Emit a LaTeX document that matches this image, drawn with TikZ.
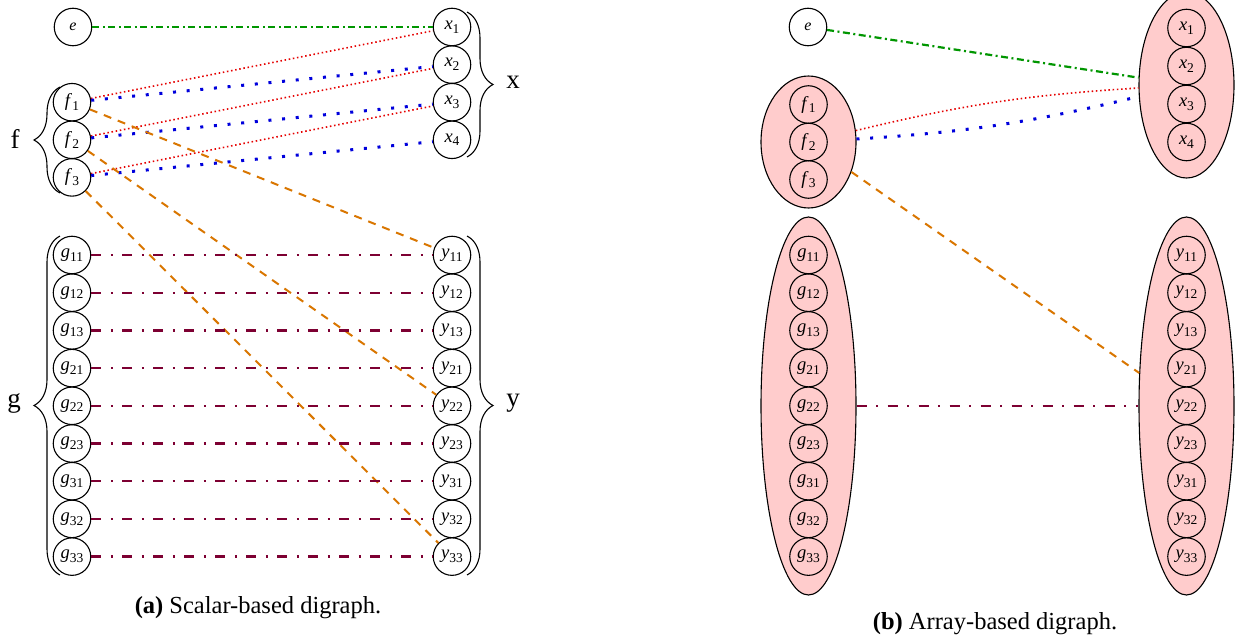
\documentclass[tikz,border=0pt]{standalone}
\usepackage{fontspec}
\setmainfont{Liberation Serif}
\usetikzlibrary{shapes.geometric,decorations.pathreplacing}
\definecolor{cgreen}{RGB}{0,150,0}
\definecolor{cred}{RGB}{230,0,0}
\definecolor{cblue}{RGB}{0,0,220}
\definecolor{corange}{RGB}{217,118,0}
\definecolor{cmaroon}{RGB}{125,0,50}
\definecolor{cpink}{RGB}{255,204,204}
\newcommand{\nl}[2]{\textit{#1}\raisebox{-3.8pt}{\fontsize{13.5}{13.5}\selectfont #2}}
\tikzset{
  vtx/.style={circle, draw, line width=1.1pt, minimum size=37.5pt, inner sep=0pt, font=\fontsize{18.5}{18.5}\selectfont},
  evtx/.style={vtx, font=\fontsize{16}{16}\selectfont},
  grp/.style={ellipse, draw, fill=cpink, line width=1.1pt, inner sep=0pt},
  greenline/.style={draw=cgreen, line width=2.2pt, dash pattern=on 7pt off 3.5pt on 2pt off 3.5pt},
  redline/.style={draw=cred, line width=1.6pt, dash pattern=on 1.5pt off 2.7pt},
  blueline/.style={draw=cblue, line width=3pt, dash pattern=on 3pt off 10.7pt},
  orangeline/.style={draw=corange, line width=2pt, dash pattern=on 8pt off 7pt},
  maroonline/.style={draw=cmaroon, line width=2.4pt, dash pattern=on 10pt off 9.5pt on 2pt off 9.5pt},
  bracestyle/.style={draw, line width=1.1pt, decorate, decoration={brace, amplitude=26pt}},
  bracelabel/.style={font=\fontsize{27}{27}\selectfont},
  caption/.style={font=\fontsize{24.5}{24.5}\selectfont, anchor=base}
}
\begin{document}
\begin{tikzpicture}[x=1pt,y=-1pt]
\clip (0,0) rectangle (1242,642);
\useasboundingbox (0,0) rectangle (1242,642);
\fill[white] (0,0) rectangle (1242,642);

% ---------- (a) scalar-based ----------
\node[evtx] (e) at (73,27) {\textit{e}};
\foreach \i/\yy in {1/27,2/64.6,3/102.2,4/139.8}{
  \node[vtx] (x\i) at (452,\yy) {\nl{x}{\i}};
}
\foreach \i/\yy in {1/102.2,2/139.8,3/177.4}{
  \node[vtx] (f\i) at (72,\yy) {\nl{f}{\i}};
}
\foreach \k/\yy in {11/255,12/292.7,13/330.4,21/368.1,22/405.8,23/443.5,31/481.2,32/518.9,33/556.6}{
  \node[vtx] (g\k) at (72,\yy) {\nl{g}{\k}};
  \node[vtx] (y\k) at (452,\yy) {\nl{y}{\k}};
}

\draw[greenline] (e) -- (x1);
\draw[redline] (f1) -- (x1);
\draw[redline] (f2) -- (x2);
\draw[redline] (f3) -- (x3);
\draw[blueline] (f1) -- (x2);
\draw[blueline] (f2) -- (x3);
\draw[blueline] (f3) -- (x4);
\draw[orangeline] (f1) -- (y11);
\draw[orangeline] (f2) -- (y22);
\draw[orangeline] (f3) -- (y33);
\foreach \k in {11,12,13,21,22,23,31,32,33}{
  \draw[maroonline] (g\k) -- (y\k);
}

% braces
\draw[bracestyle] (60,193) -- (60,87);
\draw[bracestyle] (467,12) -- (467,157);
\draw[bracestyle] (60,575) -- (60,236);
\draw[bracestyle] (467,236) -- (467,575);
\node[bracelabel] (lf) at (15,139) {f};
\node[bracelabel] (lx) at (513,82) {x};
\node[bracelabel] (lg) at (14,403) {g};
\node[bracelabel] (ly) at (513,403) {y};

\node[caption] (capA) at (258,613) {\textbf{(a)} Scalar-based digraph.};

% ---------- (b) array-based ----------
\node[grp, minimum width=95pt, minimum height=132pt] (F) at (808.5,142) {};
\node[grp, minimum width=95pt, minimum height=186pt] (X) at (1186.5,85) {};
\node[grp, minimum width=95pt, minimum height=378pt] (G) at (808.5,406) {};
\node[grp, minimum width=95pt, minimum height=378pt] (Y) at (1186.5,406) {};

\node[evtx] (eB) at (808,27) {\textit{e}};
\foreach \i/\yy in {1/28,2/66,3/104,4/142}{
  \node[vtx] (xb\i) at (1186.5,\yy) {\nl{x}{\i}};
}
\foreach \i/\yy in {1/104.5,2/142,3/179.5}{
  \node[vtx] (fb\i) at (808.5,\yy) {\nl{f}{\i}};
}
\foreach \k/\yy in {11/255,12/292.7,13/330.4,21/368.1,22/405.8,23/443.5,31/481.2,32/518.9,33/556.6}{
  \node[vtx] (gb\k) at (808.5,\yy) {\nl{g}{\k}};
  \node[vtx] (yb\k) at (1186.5,\yy) {\nl{y}{\k}};
}

\draw[greenline] (eB) -- (X);
\draw[redline] (F) to[bend left=5] (X);
\draw[blueline] (F) to[bend right=5] (X);
\draw[orangeline] (F) -- (Y);
\draw[maroonline] (G) -- (Y);

\node[caption] (capB) at (995,629) {\textbf{(b)} Array-based digraph.};
\end{tikzpicture}
\end{document}
